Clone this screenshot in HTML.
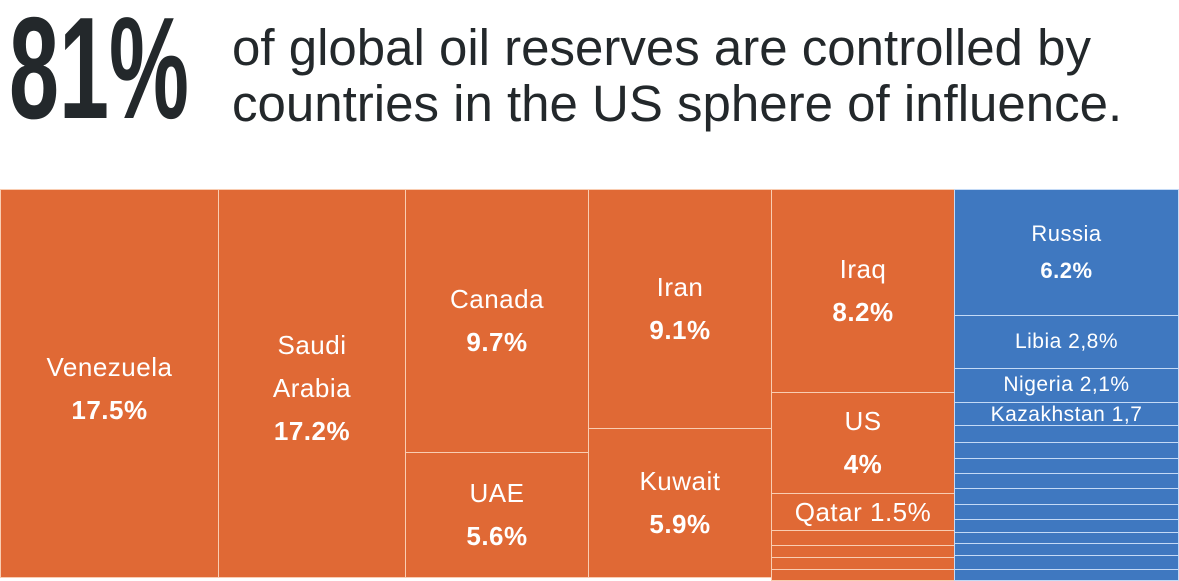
<!DOCTYPE html>
<html><head><style>
body{margin:0;width:1179px;height:578px;background:#fff;position:relative;overflow:hidden;font-family:"Liberation Sans",sans-serif}
.big{position:absolute;left:9px;top:-4px;font-size:145px;font-weight:bold;color:#23282b;transform:scaleX(0.62);transform-origin:left top;line-height:1.0}
.sub{position:absolute;left:232px;font-size:51px;color:#23282b;white-space:nowrap;line-height:1}
.r{position:absolute;box-sizing:border-box;border:1px solid rgba(255,230,210,0.8);color:#fff;text-align:center;font-size:26px;letter-spacing:0.5px;display:flex;flex-direction:column;justify-content:center;line-height:1.65}
.o{background:#e06935}
.b{background:#3f78c0;border-color:rgba(220,235,255,0.85)}
.r b{font-weight:bold}
</style></head><body>
<div class="big">81%</div>
<div class="sub" style="top:22px">of global oil reserves are controlled by</div>
<div class="sub" style="top:78px">countries in the US sphere of influence.</div>

<div class="r o" style="left:0;top:189px;width:219px;height:389px;padding-top:10px">Venezuela<b>17.5%</b></div>
<div class="r o" style="left:218px;top:189px;width:188px;height:389px;padding-top:10px">Saudi<br>Arabia<b>17.2%</b></div>
<div class="r o" style="left:405px;top:189px;width:184px;height:264px">Canada<b>9.7%</b></div>
<div class="r o" style="left:405px;top:452px;width:184px;height:126px">UAE<b>5.6%</b></div>
<div class="r o" style="left:588px;top:189px;width:184px;height:240px">Iran<b>9.1%</b></div>
<div class="r o" style="left:588px;top:428px;width:184px;height:150px">Kuwait<b>5.9%</b></div>
<div class="r o" style="left:771px;top:189px;width:184px;height:204px">Iraq<b>8.2%</b></div>
<div class="r o" style="left:771px;top:392px;width:184px;height:102px">US<b>4%</b></div>
<div class="r o" style="left:771px;top:493px;width:184px;height:38px">Qatar 1.5%</div>
<div class="r o" style="left:771px;top:530px;width:184px;height:16px"></div>
<div class="r o" style="left:771px;top:545px;width:184px;height:13px"></div>
<div class="r o" style="left:771px;top:557px;width:184px;height:13px"></div>
<div class="r o" style="left:771px;top:569px;width:184px;height:12px"></div>

<div class="r b" style="left:954px;top:189px;width:225px;height:127px;font-size:22px">Russia<b>6.2%</b></div>
<div class="r b" style="left:954px;top:315px;width:225px;height:54px;font-size:21px">Libia 2,8%</div>
<div class="r b" style="left:954px;top:368px;width:225px;height:35px;font-size:21px">Nigeria 2,1%</div>
<div class="r b" style="left:954px;top:402px;width:225px;height:24px;font-size:21px;line-height:1">Kazakhstan 1,7</div>
<div class="r b" style="left:954px;top:425px;width:225px;height:18px"></div>
<div class="r b" style="left:954px;top:442px;width:225px;height:17px"></div>
<div class="r b" style="left:954px;top:458px;width:225px;height:16px"></div>
<div class="r b" style="left:954px;top:473px;width:225px;height:16px"></div>
<div class="r b" style="left:954px;top:488px;width:225px;height:17px"></div>
<div class="r b" style="left:954px;top:504px;width:225px;height:16px"></div>
<div class="r b" style="left:954px;top:519px;width:225px;height:14px"></div>
<div class="r b" style="left:954px;top:532px;width:225px;height:12px"></div>
<div class="r b" style="left:954px;top:543px;width:225px;height:13px"></div>
<div class="r b" style="left:954px;top:555px;width:225px;height:15px"></div>
<div class="r b" style="left:954px;top:569px;width:225px;height:12px"></div>
</body></html>
